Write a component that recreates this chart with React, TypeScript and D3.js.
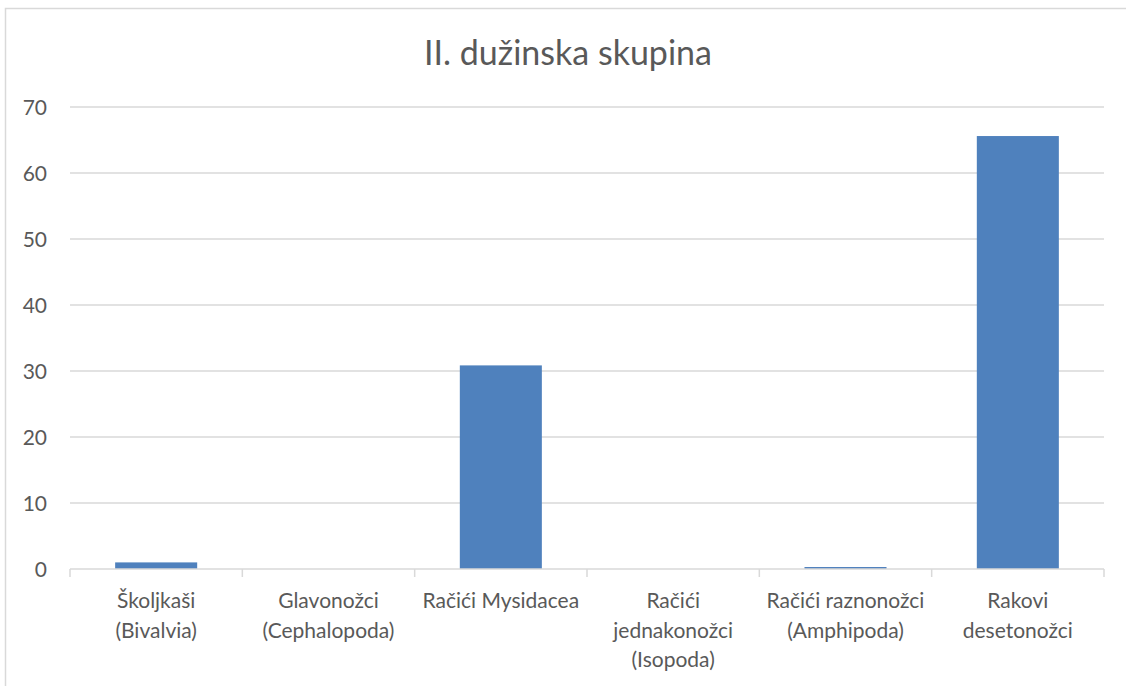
import React from "react";
import * as d3 from "d3";

const title = "II. dužinska skupina";
const categories = [
  "Školjkaši\n(Bivalvia)",
  "Glavonožci\n(Cephalopoda)",
  "Račići Mysidacea",
  "Račići\njednakonožci\n(Isopoda)",
  "Račići raznonožci\n(Amphipoda)",
  "Rakovi\ndesetonožci",
];
const values = [1.0, 0, 30.85, 0, 0.3, 65.6];
const yTicks = [0, 10, 20, 30, 40, 50, 60, 70];

const W = 1126;
const H = 686;
const FONT = "Lato, 'Open Sans', sans-serif";
const TEXT = "#595959";
const GRID = "#d9d9d9";
const BAR = "#4f81bd";

export default function App() {
  const x = d3.scaleBand<string>().domain(categories).range([70, 1104]).padding(0);
  const y = d3.scaleLinear().domain([0, 70]).range([569, 107]);
  const barW = x.bandwidth() * 0.476;
  const boundaries = [...categories.map((c) => x(c) as number), 1104];

  return (
    <div style={{ position: "absolute", left: 0, top: 0 }}>
      <svg width={W} height={H} style={{ display: "block", background: "#fff" }}>
        <rect x={5.5} y={8.5} width={W + 20} height={H + 20} fill="#fff" stroke={GRID} strokeWidth={1.5} />
        <text x={568} y={65} textAnchor="middle" fontFamily={FONT} fontSize={34} fill={TEXT}>
          {title}
        </text>
        {yTicks.map((t) => (
          <g key={t}>
            {t > 0 && (
              <line x1={70} x2={1104} y1={y(t)} y2={y(t)} stroke={GRID} strokeWidth={1.5} />
            )}
            <text x={47} y={y(t)} dy="0.36em" textAnchor="end" fontFamily={FONT} fontSize={21} fill={TEXT}>
              {t}
            </text>
          </g>
        ))}
        {categories.map((c, i) => (
          <rect
            key={c}
            x={(x(c) as number) + (x.bandwidth() - barW) / 2}
            width={barW}
            y={y(values[i])}
            height={y(0) - y(values[i])}
            fill={BAR}
          />
        ))}
        <line x1={70} x2={1104} y1={y(0)} y2={y(0)} stroke={GRID} strokeWidth={1.5} />
        {boundaries.map((b, i) => (
          <line key={i} x1={b} x2={b} y1={y(0)} y2={y(0) + 8} stroke={GRID} strokeWidth={1.5} />
        ))}
        {categories.map((c) => (
          <text
            key={c}
            x={(x(c) as number) + x.bandwidth() / 2}
            y={608}
            textAnchor="middle"
            fontFamily={FONT}
            fontSize={21}
            fill={TEXT}
          >
            {c.split("\n").map((line, j) => (
              <tspan key={j} x={(x(c) as number) + x.bandwidth() / 2} dy={j === 0 ? 0 : 29.5}>
                {line}
              </tspan>
            ))}
          </text>
        ))}
      </svg>
    </div>
  );
}
